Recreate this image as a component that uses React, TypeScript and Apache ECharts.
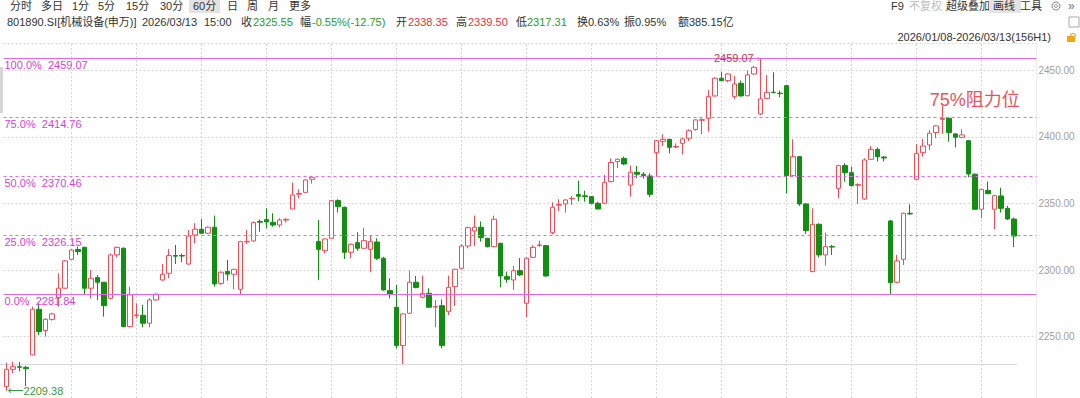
import React, { useEffect, useRef } from "react";
import * as echarts from "echarts";

// ---- data: 60-minute bars, 801890.SI 机械设备(申万), 2026/01/08 - 2026/03/13 (156 bars)
const opens = [
  2212.5, 2225.5, 2227.5, 2227.0, 2236.3, 2270.6, 2254.6, 2263.0, 2279.4, 2286.4,
  2308.1, 2315.5, 2317.1, 2286.4, 2294.4, 2290.9, 2278.8, 2311.4, 2316.4, 2257.6,
  2265.8, 2266.1, 2260.1, 2277.6, 2292.6, 2297.6, 2311.0, 2311.0, 2304.6, 2326.4,
  2330.7, 2327.7, 2332.2, 2290.0, 2299.0, 2296.9, 2285.6, 2321.2, 2321.9, 2336.5,
  2337.9, 2335.9, 2333.9, 2337.6, 2345.9, 2357.0, 2358.4, 2368.2, 2321.4, 2314.6,
  2323.9, 2352.2, 2347.2, 2313.4, 2320.6, 2316.4, 2315.6, 2321.1, 2308.9, 2284.6,
  2272.1, 2243.3, 2267.6, 2290.9, 2279.6, 2282.6, 2272.3, 2273.3, 2268.8, 2287.6,
  2301.4, 2318.1, 2329.4, 2332.2, 2323.9, 2317.6, 2320.1, 2295.1, 2292.6, 2299.6,
  2275.1, 2309.6, 2318.4, 2318.4, 2328.1, 2348.8, 2349.7, 2353.5, 2356.7, 2355.8,
  2355.2, 2350.2, 2350.2, 2366.5, 2381.5, 2383.9, 2363.9, 2373.5, 2372.0, 2370.7,
  2388.2, 2396.7, 2398.2, 2392.4, 2395.2, 2399.0, 2405.7, 2412.5, 2414.0, 2430.8,
  2444.1, 2442.3, 2430.3, 2440.3, 2431.0, 2447.3, 2417.3, 2429.0, 2433.6, 2432.9,
  2438.5, 2370.9, 2385.2, 2349.7, 2298.9, 2334.4, 2311.4, 2317.8, 2361.4, 2378.5,
  2373.2, 2363.7, 2353.4, 2383.2, 2390.7, 2384.9, 2336.9, 2290.9, 2308.1, 2342.7,
  2368.2, 2388.2, 2394.0, 2403.3, 2413.2, 2414.0, 2402.3, 2399.7, 2397.2, 2372.0,
  2345.7, 2359.9, 2345.7, 2355.7, 2346.4, 2338.35,
];
const closes = [
  2225.5, 2227.5, 2227.0, 2226.0, 2270.6, 2253.8, 2263.1, 2267.1, 2286.4, 2306.9,
  2315.1, 2314.0, 2286.4, 2293.9, 2290.9, 2273.3, 2311.4, 2317.1, 2257.6, 2281.4,
  2266.3, 2260.1, 2277.6, 2281.9, 2296.9, 2310.9, 2310.5, 2310.6, 2325.6, 2330.7,
  2327.7, 2332.2, 2289.6, 2298.4, 2297.0, 2300.6, 2321.4, 2321.6, 2335.7, 2336.0,
  2336.2, 2333.9, 2337.7, 2338.2, 2356.4, 2357.5, 2367.7, 2369.7, 2315.6, 2323.4,
  2352.2, 2347.7, 2313.4, 2319.4, 2316.4, 2322.1, 2321.4, 2308.9, 2285.1, 2281.9,
  2243.3, 2267.1, 2290.9, 2286.9, 2282.6, 2272.1, 2272.6, 2243.3, 2287.1, 2300.6,
  2318.1, 2331.9, 2332.2, 2324.4, 2317.6, 2338.2, 2295.6, 2293.1, 2299.6, 2296.4,
  2308.9, 2317.1, 2318.9, 2295.6, 2347.2, 2349.2, 2352.7, 2353.9, 2355.5, 2355.3,
  2350.2, 2345.9, 2365.9, 2380.8, 2383.2, 2379.7, 2373.5, 2372.0, 2371.0, 2356.9,
  2397.2, 2398.2, 2392.2, 2392.9, 2398.5, 2404.7, 2412.8, 2413.0, 2430.3, 2444.1,
  2442.3, 2447.3, 2439.8, 2430.8, 2446.6, 2452.3, 2428.5, 2433.5, 2433.3, 2432.6,
  2370.9, 2385.2, 2349.7, 2329.7, 2334.4, 2311.4, 2317.6, 2317.3, 2378.5, 2373.2,
  2363.5, 2364.2, 2382.7, 2390.7, 2385.2, 2384.2, 2290.6, 2306.9, 2342.7, 2342.2,
  2387.7, 2393.2, 2402.8, 2408.3, 2413.8, 2403.3, 2399.8, 2401.5, 2372.2, 2345.7,
  2360.7, 2357.4, 2355.9, 2346.4, 2338.4, 2325.55,
];
const lows = [
  2209.38, 2222.5, 2224.0, 2213.0, 2236.0, 2251.3, 2250.1, 2262.0, 2272.6, 2286.0,
  2307.6, 2311.4, 2281.4, 2278.8, 2277.6, 2265.1, 2278.0, 2309.6, 2257.0, 2257.0,
  2263.8, 2257.0, 2257.0, 2277.0, 2292.0, 2293.9, 2304.6, 2306.0, 2304.0, 2320.1,
  2327.0, 2327.0, 2287.6, 2289.0, 2292.1, 2285.6, 2281.4, 2319.6, 2321.4, 2328.8,
  2331.4, 2332.6, 2332.0, 2335.7, 2345.7, 2353.9, 2358.0, 2365.0, 2292.6, 2312.6,
  2323.4, 2343.2, 2308.4, 2308.9, 2314.6, 2316.0, 2298.4, 2307.6, 2284.6, 2278.8,
  2241.3, 2229.5, 2267.1, 2286.4, 2278.8, 2272.0, 2257.1, 2241.3, 2266.3, 2273.1,
  2300.6, 2316.4, 2318.1, 2321.4, 2317.0, 2317.0, 2287.1, 2290.6, 2285.1, 2295.6,
  2264.6, 2309.0, 2317.6, 2295.0, 2326.9, 2344.4, 2343.2, 2349.0, 2351.9, 2351.4,
  2349.4, 2345.7, 2349.4, 2365.9, 2376.6, 2379.0, 2355.2, 2369.0, 2368.7, 2354.7,
  2370.2, 2393.2, 2387.7, 2391.5, 2387.0, 2397.0, 2404.7, 2402.0, 2404.0, 2430.3,
  2442.0, 2441.0, 2428.5, 2430.3, 2430.3, 2446.6, 2416.5, 2428.5, 2432.8, 2429.8,
  2357.7, 2370.2, 2348.2, 2327.2, 2298.4, 2309.6, 2303.4, 2311.4, 2353.9, 2366.5,
  2362.7, 2349.7, 2352.7, 2382.7, 2381.5, 2381.5, 2281.84, 2290.1, 2303.9, 2341.5,
  2367.7, 2385.2, 2390.2, 2399.0, 2402.3, 2396.5, 2392.2, 2399.0, 2369.7, 2345.2,
  2338.9, 2357.0, 2330.7, 2343.2, 2337.7, 2317.31,
];
const highs = [
  2230.5, 2231.3, 2231.0, 2228.0, 2272.6, 2275.0, 2264.0, 2268.0, 2297.6, 2307.6,
  2315.6, 2317.6, 2317.6, 2300.0, 2296.4, 2291.0, 2312.5, 2317.6, 2317.0, 2287.6,
  2275.1, 2273.8, 2278.8, 2282.5, 2304.6, 2315.9, 2318.9, 2312.5, 2330.1, 2335.2,
  2338.4, 2332.7, 2340.9, 2299.0, 2307.6, 2301.0, 2322.0, 2330.1, 2336.5, 2338.0,
  2346.4, 2342.7, 2339.0, 2338.9, 2365.7, 2360.7, 2368.2, 2370.8, 2337.7, 2323.9,
  2352.7, 2353.2, 2347.7, 2320.1, 2328.4, 2331.9, 2326.4, 2323.9, 2310.0, 2293.9,
  2288.9, 2267.6, 2299.6, 2295.6, 2295.9, 2286.4, 2277.6, 2278.0, 2295.9, 2301.0,
  2319.6, 2332.7, 2340.9, 2336.5, 2324.0, 2340.9, 2320.6, 2298.9, 2303.1, 2309.0,
  2309.7, 2318.9, 2322.1, 2319.0, 2350.9, 2353.2, 2353.2, 2355.7, 2367.2, 2359.7,
  2355.7, 2351.4, 2371.5, 2383.9, 2383.9, 2385.2, 2378.5, 2378.2, 2373.5, 2372.7,
  2397.7, 2402.0, 2398.7, 2395.2, 2399.7, 2405.7, 2413.3, 2414.0, 2435.3, 2444.8,
  2449.1, 2447.8, 2445.8, 2442.3, 2449.8, 2453.3, 2459.07, 2446.6, 2448.6, 2434.8,
  2439.0, 2398.2, 2385.7, 2350.2, 2346.4, 2335.2, 2328.2, 2318.9, 2379.0, 2380.2,
  2377.7, 2365.2, 2383.9, 2393.2, 2392.2, 2385.7, 2337.7, 2311.4, 2343.2, 2349.4,
  2394.7, 2398.7, 2405.2, 2409.0, 2423.3, 2414.8, 2402.8, 2405.7, 2397.7, 2372.7,
  2361.0, 2366.5, 2356.4, 2361.9, 2348.2, 2339.5,
];

// Fibonacci retracement between the swing low and swing high
const fibPercents = [1, 0.75, 0.5, 0.25, 0];
const fibValues = [2459.07, 2414.76, 2370.46, 2326.15, 2281.84];

// y-axis range and vertical grid bars (every 10 bars)
const yMin = 2203.96;
const yMax = 2470.56;
const gridBarIndices = [10, 20, 30, 40, 50, 60, 70, 80, 90, 100, 110, 120, 130, 140, 150];
const emptyBarsRight = 3;

// annotated points
const peakBar = 116;
const peakValue = 2459.07;
const lowBar = 0;
const lowValue = 2209.38;
const resistBar = 149;
const resistLabelValue = 2427.8;
const resistText = "75%阻力位";

// header texts
const toolbarItems = ["分时", "多日", "1分", "5分", "15分", "30分", "60分", "日", "周", "月", "更多"];
const toolbarX = [10, 41, 72, 98, 126, 160, 193, 227, 247, 268, 289];
const activeToolbar = "60分";
const rightTools = ["F9", "不复权", "超级叠加", "画线", "工具"];
const rightToolsX = [891, 909, 946, 993, 1020];
const dateRangeText = "2026/01/08-2026/03/13(156H1)";

const UP = "#ea4f58";
const DOWN = "#128f12";
const FIB_LINE = "#e26ae2";
const FIB_TEXT = "#d83fd8";
const TXT = "#333333";
const RED = "#e0343c";
const GREEN = "#2a9a2a";
const FONT = "'Liberation Sans', 'Noto Sans CJK SC', sans-serif";

const infoRow: { t: string; x: number; c: string }[] = [
  { t: "801890.SI[机械设备(申万)]", x: 7, c: TXT },
  { t: "2026/03/13", x: 142, c: TXT },
  { t: "15:00", x: 204, c: TXT },
  { t: "收", x: 241, c: TXT },
  { t: "2325.55", x: 253, c: GREEN },
  { t: "幅", x: 300, c: TXT },
  { t: "-0.55%(-12.75)", x: 312, c: GREEN },
  { t: "开", x: 396, c: TXT },
  { t: "2338.35", x: 408, c: RED },
  { t: "高", x: 456, c: TXT },
  { t: "2339.50", x: 468, c: RED },
  { t: "低", x: 516, c: TXT },
  { t: "2317.31", x: 527, c: GREEN },
  { t: "换0.63%", x: 577, c: TXT },
  { t: "振0.95%", x: 624, c: TXT },
  { t: "额385.15亿", x: 678, c: TXT },
];

function txt(x: number, y: number, text: string, fill: string, size = 11, align = "left") {
  return {
    type: "text",
    x,
    y,
    silent: true,
    style: { text, fill, fontSize: size, fontFamily: FONT, align, verticalAlign: "middle" },
  };
}

export default function App() {
  const ref = useRef<HTMLDivElement>(null);

  useEffect(() => {
    if (!ref.current) return;
    const chart = echarts.init(ref.current, null, { renderer: "svg" });

    const n = opens.length;
    const categories: string[] = [];
    for (let i = 0; i < n + emptyBarsRight; i++) categories.push(i < n ? `K${i + 1}` : `pad${i}`);
    const ohlc = opens.map((o, i) => [o, closes[i], lows[i], highs[i]]);

    const graphic: any[] = [];
    // toolbar row
    toolbarItems.forEach((t, i) => {
      if (t === activeToolbar) {
        graphic.push({ type: "rect", shape: { x: toolbarX[i] - 4, y: 0, width: 31, height: 13 }, style: { fill: "#e3e3e3" }, silent: true });
      }
      graphic.push(txt(toolbarX[i], 6, t, TXT, 11));
    });
    rightTools.forEach((t, i) => {
      if (t === "画线") {
        graphic.push({ type: "rect", shape: { x: rightToolsX[i] - 4, y: 0, width: 32, height: 13 }, style: { fill: "#e3e3e3" }, silent: true });
      }
      graphic.push(txt(rightToolsX[i], 6, t, t === "不复权" ? "#bdbdbd" : TXT, 11));
    });
    graphic.push({ type: "circle", shape: { cx: 1056, cy: 6, r: 4 }, style: { fill: "none", stroke: "#888", lineWidth: 1 }, silent: true });
    graphic.push({ type: "circle", shape: { cx: 1056, cy: 6, r: 1.5 }, style: { fill: "none", stroke: "#888", lineWidth: 1 }, silent: true });
    graphic.push(txt(1068, 6, "»", "#777", 12));
    // info row
    infoRow.forEach((r) => graphic.push(txt(r.x, 22, r.t, r.c, 11)));
    graphic.push({ type: "rect", shape: { x: 1069, y: 17, width: 10, height: 10 }, style: { fill: "none", stroke: "#aaa", lineWidth: 1 }, silent: true });
    // date range row
    graphic.push(txt(1051, 37, dateRangeText, TXT, 11, "right"));
    graphic.push({ type: "rect", shape: { x: 1067, y: 36, width: 8, height: 6 }, style: { fill: "#f2a516" }, silent: true });
    graphic.push({ type: "arc", shape: { cx: 1073, cy: 36, r: 2.5, startAngle: Math.PI, endAngle: 0 }, style: { stroke: "#f2a516", fill: "none", lineWidth: 1.2 }, silent: true });
    // left edge scrollbar remnants
    graphic.push({ type: "rect", shape: { x: 0, y: 67, width: 3, height: 46 }, style: { fill: "#d6d6d6" }, silent: true });
    // separator line of the main panel
    graphic.push({ type: "line", shape: { x1: 0, y1: 364.5, x2: 1017, y2: 364.5 }, style: { stroke: "#d9d9d9", lineWidth: 1 }, silent: true });

    const fibMarkData = fibValues.map((v, i) => {
      const p = fibPercents[i];
      const solid = p === 0 || p === 1;
      return {
        yAxis: v,
        lineStyle: { color: FIB_LINE, width: 1, type: solid ? "solid" : [3, 3] },
        label: {
          show: true,
          position: "insideStartBottom",
          distance: [1, 1],
          formatter: `${(p * 100).toFixed(1)}%  ${v.toFixed(2)}`,
          color: FIB_TEXT,
          fontSize: 11,
          fontFamily: FONT,
        },
      };
    });

    const option: any = {
      animation: false,
      backgroundColor: "#ffffff",
      grid: { left: 3.5, right: 43.5, top: 43, bottom: 0, containLabel: false },
      xAxis: {
        type: "category",
        data: categories,
        boundaryGap: true,
        axisLine: { show: false },
        axisTick: { show: false },
        axisLabel: { show: false },
        splitLine: { show: false },
      },
      yAxis: {
        type: "value",
        position: "right",
        min: yMin,
        max: yMax,
        scale: true,
        axisLine: { show: true, lineStyle: { color: "#ececec" } },
        axisTick: { show: false },
        axisLabel: {
          color: "#a0a0a0",
          fontSize: 10,
          fontFamily: FONT,
          margin: 2,
          showMinLabel: false,
          showMaxLabel: false,
          formatter: (v: number) => v.toFixed(2),
        },
        splitLine: { show: true, lineStyle: { color: "#d6d6d6", type: [2, 2], width: 1 } },
      },
      graphic,
      series: [
        {
          type: "line",
          data: [],
          silent: true,
          markLine: {
            silent: true,
            z: 1,
            symbol: ["none", "none"],
            label: { show: false },
            lineStyle: { color: "#d6d6d6", type: [2, 2], width: 1 },
            data: gridBarIndices.map((i) => ({ xAxis: i })),
          },
        },
        {
          type: "candlestick",
          data: ohlc,
          barWidth: 5,
          z: 3,
          itemStyle: {
            color: "#ffffff",
            color0: DOWN,
            borderColor: UP,
            borderColor0: DOWN,
            borderWidth: 1,
          },
          markLine: {
            silent: true,
            symbol: ["none", "none"],
            data: fibMarkData,
          },
          markPoint: {
            silent: true,
            symbol: "circle",
            symbolSize: 0,
            data: [
              {
                coord: [peakBar, peakValue],
                label: {
                  show: true,
                  position: "left",
                  distance: 0,
                  formatter: `{v|${peakValue.toFixed(2)}}{a| ›}`,
                  rich: {
                    v: { color: "#c8354f", fontSize: 11, fontFamily: FONT },
                    a: { color: "#999", fontSize: 11, fontFamily: FONT },
                  },
                },
              },
              {
                coord: [lowBar, lowValue],
                label: {
                  show: true,
                  position: "right",
                  distance: 1,
                  formatter: `{a|⟵}{v|${lowValue.toFixed(2)}}`,
                  rich: {
                    v: { color: "#3a9a3a", fontSize: 11, fontFamily: FONT },
                    a: { color: "#3a9a3a", fontSize: 11, fontFamily: "'DejaVu Sans', sans-serif" },
                  },
                },
              },
              {
                coord: [resistBar, resistLabelValue],
                label: {
                  show: true,
                  position: "inside",
                  formatter: resistText,
                  color: "#e8545a",
                  fontSize: 18,
                  fontFamily: FONT,
                },
              },
            ],
          },
        },
      ],
    };

    chart.setOption(option);
    return () => chart.dispose();
  }, []);

  return (
    <div
      ref={ref}
      style={{ position: "absolute", left: 0, top: 0, width: 1080, height: 398, background: "#fff" }}
    />
  );
}
